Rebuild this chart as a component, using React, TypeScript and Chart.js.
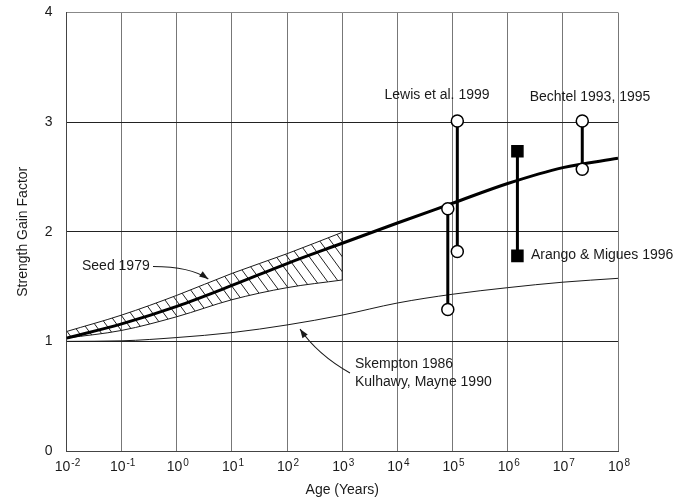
import React, { useEffect, useRef } from 'react';
import { Chart, registerables } from 'chart.js';

Chart.register(...registerables);

// ---- data ----
const xDecades = [-2, -1, 0, 1, 2, 3, 4, 5, 6, 7, 8];
const yTickValues = [0, 1, 2, 3, 4];

const seedAges = [0.01, 0.1, 1, 10, 100, 1000];
const seedLower = [1.03, 1.1, 1.225, 1.38, 1.49, 1.56];
const seedUpper = [1.09, 1.24, 1.42, 1.62, 1.8, 1.995];

const mainAges = [0.01, 0.1, 1, 10, 100, 1e3, 1e4, 1e5, 1e6, 1e7, 1e8];
const mainGain = [1.03, 1.16, 1.32, 1.51, 1.71, 1.895, 2.08, 2.26, 2.44, 2.585, 2.67];

const skemptonAges = [0.01, 0.1, 1, 10, 100, 1e3, 1e4, 1e5, 1e6, 1e7, 1e8];
const skemptonGain = [1.0, 1.005, 1.035, 1.08, 1.15, 1.24, 1.35, 1.43, 1.49, 1.54, 1.575];

const lewisAAge = 8.2e4;
const lewisAGain = [1.29, 2.21];
const lewisBAge = 1.22e5;
const lewisBGain = [1.82, 3.01];
const arangoAge = 1.5e6;
const arangoGain = [1.78, 2.735];
const bechtelAge = 2.25e7;
const bechtelGain = [2.57, 3.01];

const FONT = '"Liberation Sans", Arial, Helvetica, sans-serif';
const INK = '#1a1a1a';

function makeHatch(): CanvasPattern | string {
  const w = 11;
  const h = 15;
  const c = document.createElement('canvas');
  c.width = w;
  c.height = h;
  const g = c.getContext('2d');
  if (!g) return 'rgba(0,0,0,0.2)';
  g.strokeStyle = '#222';
  g.lineWidth = 1;
  g.beginPath();
  for (const s of [-w, 0, w]) {
    g.moveTo(s - w, -h);
    g.lineTo(s + 2 * w, 2 * h);
  }
  g.stroke();
  const p = g.createPattern(c, 'repeat');
  return p || 'rgba(0,0,0,0.2)';
}

const pts = (xs: number[], ys: number[]) => xs.map((x, i) => ({ x, y: ys[i] }));

// annotation layout (data coordinates: log10 age, gain)
const textNotes = [
  { text: 'Lewis et al. 1999', lx: 4.718, y: 3.248, align: 'center' },
  { text: 'Bechtel 1993, 1995', lx: 7.492, y: 3.23, align: 'center' },
  { text: 'Arango & Migues 1996', lx: 6.422, y: 1.788, align: 'left' },
  { text: 'Seed 1979', lx: -1.719, y: 1.683, align: 'left' },
  { text: 'Skempton 1986', lx: 3.231, y: 0.789, align: 'left' },
  { text: 'Kulhawy, Mayne 1990', lx: 3.231, y: 0.63, align: 'left' },
];
const arrowNotes = [
  { from: [-0.432, 1.683], ctrl: [0.245, 1.683], to: [0.571, 1.569] },
  { from: [3.14, 0.712], ctrl: [2.551, 0.88], to: [2.234, 1.113] },
];

const annotationPlugin = {
  id: 'annotations',
  beforeDraw(chart: any) {
    const ctx = chart.ctx;
    ctx.save();
    ctx.fillStyle = '#ffffff';
    ctx.fillRect(0, 0, chart.width, chart.height);
    ctx.restore();
  },
  afterDraw(chart: any) {
    const ctx: CanvasRenderingContext2D = chart.ctx;
    const xs = chart.scales.x;
    const ys = chart.scales.y;
    const px = (lx: number) => xs.getPixelForValue(Math.pow(10, lx));
    const py = (v: number) => ys.getPixelForValue(v);
    ctx.save();
    // x tick labels with superscripts
    ctx.fillStyle = INK;
    ctx.textBaseline = 'alphabetic';
    for (const e of xDecades) {
      const x = xs.getPixelForValue(Math.pow(10, e));
      ctx.font = `14px ${FONT}`;
      const base = '10';
      const wb = ctx.measureText(base).width;
      ctx.font = `10px ${FONT}`;
      const exp = e < 0 ? '-' + Math.abs(e) : String(e);
      const we = ctx.measureText(exp).width;
      const total = wb + 1 + we;
      const start = x + 1 - total / 2;
      ctx.font = `14px ${FONT}`;
      ctx.textAlign = 'left';
      ctx.fillText(base, start, 471);
      ctx.font = `10px ${FONT}`;
      ctx.fillText(exp, start + wb + 1, 465.5);
    }
    // text notes
    ctx.font = `14px ${FONT}`;
    ctx.textBaseline = 'middle';
    for (const n of textNotes) {
      ctx.textAlign = n.align as CanvasTextAlign;
      ctx.fillText(n.text, px(n.lx), py(n.y));
    }
    // arrows
    ctx.strokeStyle = INK;
    ctx.lineWidth = 1.1;
    for (const a of arrowNotes) {
      const x0 = px(a.from[0]), y0 = py(a.from[1]);
      const cx = px(a.ctrl[0]), cy = py(a.ctrl[1]);
      const x1 = px(a.to[0]), y1 = py(a.to[1]);
      ctx.beginPath();
      ctx.moveTo(x0, y0);
      ctx.quadraticCurveTo(cx, cy, x1, y1);
      ctx.stroke();
      const ang = Math.atan2(y1 - cy, x1 - cx);
      const L = 9, W = 3.2;
      ctx.beginPath();
      ctx.moveTo(x1, y1);
      ctx.lineTo(x1 - L * Math.cos(ang) + W * Math.sin(ang), y1 - L * Math.sin(ang) - W * Math.cos(ang));
      ctx.lineTo(x1 - L * Math.cos(ang) - W * Math.sin(ang), y1 - L * Math.sin(ang) + W * Math.cos(ang));
      ctx.closePath();
      ctx.fill();
    }
    ctx.restore();
  },
};

export default function App() {
  const ref = useRef<HTMLCanvasElement>(null);
  useEffect(() => {
    if (!ref.current) return;
    const hatch = makeHatch();
    const thin = { borderColor: INK, borderWidth: 1, pointRadius: 0, showLine: true, fill: false, order: 3 };
    const marker = (age: number, gain: number[], style: string) => ({
      data: gain.map((g) => ({ x: age, y: g })),
      showLine: true,
      borderColor: '#000',
      borderWidth: 3,
      pointStyle: style,
      pointRadius: style === 'rect' ? 7.8 : 6,
      pointBackgroundColor: style === 'rect' ? '#000' : '#fff',
      pointBorderColor: '#000',
      pointBorderWidth: 1.5,
      fill: false,
      order: 0,
    });
    const chart = new Chart(ref.current, {
      type: 'scatter',
      data: {
        datasets: [
          { ...thin, label: 'Seed lower', data: pts(seedAges, seedLower), cubicInterpolationMode: 'monotone' },
          {
            ...thin,
            label: 'Seed upper',
            data: pts(seedAges, seedUpper),
            cubicInterpolationMode: 'monotone',
            fill: '-1',
            backgroundColor: hatch,
          },
          { ...thin, label: 'Seed edge', data: [{ x: 1000, y: seedLower[5] }, { x: 1000, y: seedUpper[5] }] },
          {
            label: 'Main',
            data: pts(mainAges, mainGain),
            showLine: true,
            borderColor: '#000',
            borderWidth: 3,
            pointRadius: 0,
            cubicInterpolationMode: 'monotone',
            fill: false,
            order: 1,
          },
          { ...thin, label: 'Skempton', data: pts(skemptonAges, skemptonGain), cubicInterpolationMode: 'monotone' },
          { label: 'Lewis A', ...marker(lewisAAge, lewisAGain, 'circle') },
          { label: 'Lewis B', ...marker(lewisBAge, lewisBGain, 'circle') },
          { label: 'Arango', ...marker(arangoAge, arangoGain, 'rect') },
          { label: 'Bechtel', ...marker(bechtelAge, bechtelGain, 'circle') },
        ] as any,
      },
      options: {
        responsive: false,
        animation: false,
        events: [],
        layout: { padding: { top: 12.5, right: 72, left: 0, bottom: 0 } },
        plugins: { legend: { display: false }, tooltip: { enabled: false } },
        scales: {
          x: {
            type: 'logarithmic',
            min: 0.01,
            max: 1e8,
            afterBuildTicks: (s: any) => {
              s.ticks = xDecades.map((e) => ({ value: Math.pow(10, e) }));
            },
            afterFit: (s: any) => {
              s.height = 51;
              s.paddingLeft = 0;
              s.paddingRight = 0;
            },
            ticks: { display: false, autoSkip: false },
            grid: { color: '#777', lineWidth: 1, drawTicks: false },
            border: { color: '#444', width: 1 },
            title: {
              display: true,
              text: 'Age (Years)',
              color: INK,
              font: { family: FONT, size: 14 },
              padding: { top: 0, bottom: 3.6 },
            },
          },
          y: {
            type: 'linear',
            min: 0,
            max: 4,
            afterBuildTicks: (s: any) => {
              s.ticks = yTickValues.map((v) => ({ value: v }));
            },
            afterFit: (s: any) => {
              s.width = 66.5;
              s.paddingTop = 0;
              s.paddingBottom = 0;
            },
            ticks: { color: INK, padding: 14, font: { family: FONT, size: 14 } },
            grid: {
              color: (c: any) => (c.tick && c.tick.value === 4 ? '#888' : '#222'),
              lineWidth: 1,
              drawTicks: false,
            },
            border: { color: '#444', width: 1 },
            title: {
              display: true,
              text: 'Strength Gain Factor',
              color: INK,
              font: { family: FONT, size: 14 },
              padding: { top: 14.6, bottom: 0 },
            },
          },
        },
      } as any,
      plugins: [annotationPlugin],
    });
    return () => chart.destroy();
  }, []);
  return (
    <div style={{ position: 'fixed', left: 0, top: 0, width: 690, height: 502, background: '#fff' }}>
      <canvas ref={ref} width={690} height={502} style={{ display: 'block' }} />
    </div>
  );
}
